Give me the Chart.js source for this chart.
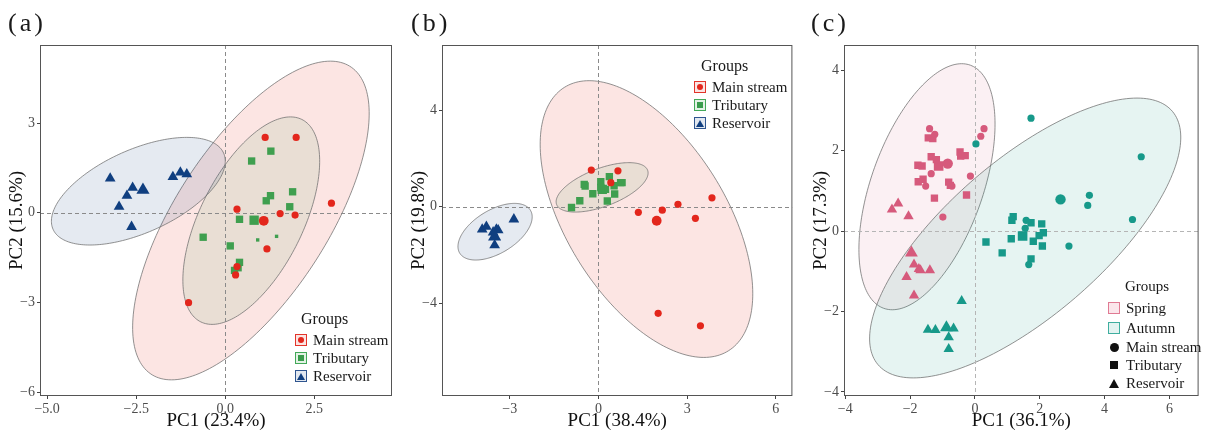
<!DOCTYPE html>
<html>
<head>
<meta charset="utf-8">
<script src="https://cdn.jsdelivr.net/npm/chart.js@4.4.1/dist/chart.umd.min.js"></script>
<style>
  body { margin: 0; background: #fff; width: 1206px; height: 432px; overflow: hidden; position: relative;
         font-family: "Liberation Serif", "Times New Roman", serif; color: #1a1a1a; }
  canvas { position: absolute; top: 0; }
  .tag { position: absolute; top: 8px; font-size: 26px; line-height: 30px; letter-spacing: 3px; }
  .lg { position: absolute; }
  .lg .t { font-size: 16px; height: 20px; line-height: 20px; margin-bottom: 2px; }
  .lg .i { font-size: 15px; line-height: 18px; height: 18px; display: flex; align-items: center; white-space: nowrap; }
  .k { width: 10px; height: 10px; border: 1.5px solid; margin-right: 6px; flex: none;
       display: flex; align-items: center; justify-content: center; }
  .dot { width: 6px; height: 6px; border-radius: 50%; }
  .sq { width: 6px; height: 6px; }
  .tri { width: 0; height: 0; border-left: 4px solid transparent; border-right: 4px solid transparent; border-bottom: 7px solid; }
</style>
</head>
<body>
<canvas id="ca" width="400" height="432" style="left:0"></canvas>
<canvas id="cb" width="400" height="432" style="left:400px"></canvas>
<canvas id="cc" width="406" height="432" style="left:800px"></canvas>

<div class="tag" style="left:8px">(a)</div>
<div class="tag" style="left:411px">(b)</div>
<div class="tag" style="left:811px">(c)</div>

<div class="lg" style="left:295px; top:309px">
  <div class="t" style="padding-left:6px">Groups</div>
  <div class="i"><span class="k" style="border-color:#e3342a;background:#fbe4e2"><span class="dot" style="background:#e3261c"></span></span>Main stream</div>
  <div class="i"><span class="k" style="border-color:#43a858;background:#e3f2e5"><span class="sq" style="background:#3a9c4c"></span></span>Tributary</div>
  <div class="i"><span class="k" style="border-color:#2f558f;background:#e2e8f0"><span class="tri" style="border-bottom-color:#103f80"></span></span>Reservoir</div>
</div>

<div class="lg" style="left:694px; top:56px">
  <div class="t" style="padding-left:7px">Groups</div>
  <div class="i"><span class="k" style="border-color:#e3342a;background:#fbe4e2"><span class="dot" style="background:#e3261c"></span></span>Main stream</div>
  <div class="i"><span class="k" style="border-color:#43a858;background:#e3f2e5"><span class="sq" style="background:#3a9c4c"></span></span>Tributary</div>
  <div class="i"><span class="k" style="border-color:#2f558f;background:#e2e8f0"><span class="tri" style="border-bottom-color:#103f80"></span></span>Reservoir</div>
</div>

<div class="lg" style="left:1108px; top:276px">
  <div class="t" style="padding-left:17px; font-size:15px">Groups</div>
  <div class="i" style="height:20px"><span class="k" style="border-color:#e07a93;background:#fbe6eb"></span>Spring</div>
  <div class="i" style="height:20px"><span class="k" style="border-color:#3fae9f;background:#e3f3f1"></span>Autumn</div>
  <div class="i"><span class="k" style="border-color:transparent"><span class="dot" style="width:9px;height:9px;background:#111"></span></span>Main stream</div>
  <div class="i"><span class="k" style="border-color:transparent"><span class="sq" style="width:8px;height:8px;background:#111"></span></span>Tributary</div>
  <div class="i"><span class="k" style="border-color:transparent"><span class="tri" style="border-bottom-color:#111;border-left-width:5px;border-right-width:5px;border-bottom-width:9px"></span></span>Reservoir</div>
</div>

<script>
// ---- panel (a): PC1 23.4% / PC2 15.6%
const mainA = [[1.12,2.52],[1.99,2.52],[2.98,0.32],[0.33,0.12],[1.54,-0.03],[1.96,-0.08],[1.17,-1.21],[0.29,-2.08],[0.33,-1.80],[-1.03,-3.01]];
const mainAMean = [[1.08,-0.27]];
const tribA = [[1.28,2.06],[0.74,1.73],[1.27,0.57],[1.15,0.40],[1.89,0.70],[1.81,0.20],[0.40,-0.22],[-0.62,-0.82],[0.14,-1.11],[0.40,-1.66],[0.36,-1.84],[0.26,-1.93]];
const tribAMean = [[0.81,-0.25]];
const tribASmall = [[0.91,-0.91],[1.44,-0.79]];
const resA = [[-3.23,1.15],[-2.60,0.84],[-2.76,0.57],[-2.98,0.20],[-2.63,-0.47],[-1.47,1.20],[-1.26,1.35],[-1.08,1.29]];
const resAMean = [[-2.31,0.76]];
// ellipses: [cx, cy, half width, half height, x offset of top point]
const ellMainA = [0.72, -0.26, 3.32, 5.33, 2.23];
const ellTribA = [0.73, -0.265, 1.92, 3.47, 1.10];
const ellResA = [-2.44, 0.72, 2.44, 1.80, 1.36];
const xTicksA = [-5, -2.5, 0, 2.5];
const yTicksA = [-6, -3, 0, 3];

// ---- panel (b): PC1 38.4% / PC2 19.8%
const mainB = [[-0.24,1.52],[0.66,1.49],[0.42,1.0],[1.35,-0.23],[2.16,-0.14],[2.69,0.10],[3.84,0.37],[3.28,-0.48],[2.02,-4.42],[3.45,-4.94]];
const mainBMean = [[1.97,-0.58]];
const tribB = [[-0.91,-0.03],[-0.63,0.25],[-0.19,0.54],[-0.48,0.93],[-0.45,0.86],[0.08,1.04],[0.37,1.25],[0.24,0.72],[0.53,0.87],[0.75,1.0],[0.80,1.0],[0.55,0.53],[0.30,0.24],[0.08,0.80]];
const tribBMean = [[0.13,0.72]];
const resB = [[-2.86,-0.52],[-3.93,-0.94],[-3.79,-0.83],[-3.45,-0.94],[-3.39,-0.97],[-3.51,-1.59],[-3.56,-1.06]];
const resBMean = [[-3.51,-1.24]];
const ellMainB = [1.625, -0.51, 3.595, 5.74, -1.94];
const ellTribB = [0.125, 0.805, 1.555, 1.025, 0.905];
const ellResB = [-3.495, -1.035, 1.255, 1.175, 0.655];
const xTicksB = [-3, 0, 3, 6];
const yTicksB = [-4, 0, 4];

// ---- panel (c): PC1 36.1% / PC2 17.3%
const springMain = [[-1.40,2.55],[-1.24,2.41],[0.28,2.55],[0.18,2.36],[-1.35,1.43],[-1.52,1.12],[-0.71,1.12],[-0.14,1.37],[-0.99,0.35]];
const springMainMean = [[-0.84,1.68]];
const springTrib = [[-1.44,2.32],[-1.30,2.30],[-1.35,1.85],[-1.19,1.78],[-1.76,1.64],[-1.63,1.62],[-0.46,1.97],[-0.44,1.87],[-0.30,1.88],[-1.75,1.23],[-1.60,1.29],[-0.81,1.22],[-0.76,1.14],[-1.25,0.82],[-0.26,0.90]];
const springTribMean = [[-1.12,1.62]];
const springRes = [[-2.56,0.54],[-2.37,0.69],[-2.05,0.37],[-1.88,-0.83],[-1.73,-0.94],[-1.68,-0.97],[-1.39,-0.97],[-2.11,-1.14],[-1.88,-1.60]];
const springResMean = [[-1.96,-0.54]];
const autumnMain = [[1.73,2.81],[0.03,2.17],[5.13,1.85],[3.53,0.89],[3.48,0.64],[4.86,0.29],[2.90,-0.37],[1.58,0.27],[1.55,0.07],[1.66,-0.83]];
const autumnMainMean = [[2.64,0.79]];
const autumnTrib = [[1.18,0.36],[1.14,0.27],[1.73,0.21],[2.06,0.18],[2.11,-0.04],[1.98,-0.11],[1.12,-0.19],[1.80,-0.25],[2.08,-0.37],[0.34,-0.27],[0.84,-0.54],[1.73,-0.69]];
const autumnTribMean = [[1.47,-0.12]];
const autumnRes = [[-0.41,-1.74],[-1.45,-2.45],[-1.22,-2.46],[-0.66,-2.42],[-0.81,-2.64],[-0.81,-2.93]];
const autumnResMean = [[-0.88,-2.40]];
const ellSpring = [-1.48, 1.105, 2.10, 3.06, 1.07];
const ellAutumn = [1.55, -0.17, 4.80, 3.48, 3.45];
const xTicksC = [-4, -2, 0, 2, 4, 6];
const yTicksC = [-4, -2, 0, 2, 4];

const FONT = '"Liberation Serif", "Times New Roman", serif';
const RED = '#e3261c', GREEN = '#3f9f4f', BLUE = '#103f80';
const PINK = '#d65a7c', TEAL = '#17998a';

function ds(points, color, style, r) {
  return {
    data: points.map(p => ({ x: p[0], y: p[1] })),
    backgroundColor: color, borderWidth: 0,
    pointStyle: style, pointRadius: r, pointHoverRadius: r
  };
}

function fmt(dec) {
  return v => (v < 0 ? '\u2212' : '') + Math.abs(v).toFixed(dec);
}

// ellipses, dashed zero lines and the panel frame, all placed through the chart scales
const panelPlugin = {
  id: 'panel',
  beforeDatasetsDraw(chart, args, opts) {
    const { ctx, chartArea: a, scales: { x, y } } = chart;
    ctx.save();
    ctx.beginPath();
    ctx.rect(a.left, a.top, a.right - a.left, a.bottom - a.top);
    ctx.clip();
    opts.ellipses.forEach(([e, fill]) => {
      const [cx, cy, W, H, dxT] = e;
      const w = Math.sqrt(Math.max(W * W - dxT * dxT, 0));
      ctx.beginPath();
      for (let i = 0; i <= 200; i++) {
        const t = i / 200 * Math.PI * 2;
        const px = x.getPixelForValue(cx + dxT * Math.cos(t) + w * Math.sin(t));
        const py = y.getPixelForValue(cy + H * Math.cos(t));
        if (i === 0) ctx.moveTo(px, py); else ctx.lineTo(px, py);
      }
      ctx.closePath();
      ctx.fillStyle = fill;
      ctx.fill();
      ctx.lineWidth = 1;
      ctx.strokeStyle = 'rgba(110,110,110,0.75)';
      ctx.stroke();
    });
    const x0 = Math.round(x.getPixelForValue(0)) + 0.5, y0 = Math.round(y.getPixelForValue(0)) + 0.5;
    ctx.setLineDash(opts.dash);
    ctx.strokeStyle = opts.zero;
    ctx.lineWidth = 1;
    ctx.beginPath();
    ctx.moveTo(x0, a.top); ctx.lineTo(x0, a.bottom);
    ctx.moveTo(a.left, y0); ctx.lineTo(a.right, y0);
    ctx.stroke();
    ctx.restore();
  },
  afterDraw(chart) {
    const { ctx, chartArea: a } = chart;
    ctx.save();
    ctx.strokeStyle = '#555';
    ctx.lineWidth = 1;
    ctx.strokeRect(a.left + 0.5, a.top + 0.5, a.right - a.left - 1, a.bottom - a.top - 1);
    ctx.restore();
  }
};

function axis(min, max, ticks, dec, title, extra) {
  return Object.assign({
    type: 'linear', min: min, max: max,
    afterBuildTicks: s => { s.ticks = ticks.map(v => ({ value: v })); },
    grid: { drawOnChartArea: false, drawTicks: true, tickLength: 3, tickColor: '#444', tickWidth: 1 },
    border: { display: false },
    ticks: { color: '#4d4d4d', font: { family: FONT, size: 14 }, callback: fmt(dec), maxRotation: 0, autoSkip: false },
    title: { display: true, text: title, color: '#111', font: { family: FONT, size: 19 } }
  }, extra);
}

function makeChart(id, o) {
  const xs = axis(o.x[0], o.x[1], o.x[2], o.x[3], o.x[4], { afterFit: s => { s.height = 36; } });
  xs.ticks.padding = 2;
  xs.title.padding = { top: 0, bottom: 0 };
  const ys = axis(o.y[0], o.y[1], o.y[2], o.y[3], o.y[4], { afterFit: s => { s.width = o.yw; } });
  ys.ticks.padding = 2;
  ys.title.padding = { top: o.ytp, bottom: 0 };
  return new Chart(document.getElementById(id), {
    type: 'scatter',
    data: { datasets: o.datasets },
    options: {
      responsive: false, animation: false, events: [],
      layout: { padding: { top: 45, right: o.pr, left: 0, bottom: 0 } },
      plugins: {
        legend: { display: false }, tooltip: { enabled: false },
        panel: { ellipses: o.ellipses, zero: o.zero, dash: o.dash }
      },
      scales: { x: xs, y: ys }
    },
    plugins: [panelPlugin]
  });
}

makeChart('ca', {
  x: [-5.2, 4.68, xTicksA, 1, 'PC1 (23.4%)'],
  y: [-6.13, 5.61, yTicksA, 0, 'PC2 (15.6%)'],
  yw: 40, ytp: 6, pr: 8, zero: '#8a8a8a', dash: [4, 3],
  ellipses: [[ellMainA, 'rgba(227,38,28,0.12)'], [ellTribA, 'rgba(63,159,79,0.10)'], [ellResA, 'rgba(16,63,128,0.11)']],
  datasets: [
    ds(mainA, RED, 'circle', 3.6), ds(mainAMean, RED, 'circle', 4.9),
    ds(tribA, GREEN, 'rect', 5.2), ds(tribAMean, GREEN, 'rect', 6.6), ds(tribASmall, GREEN, 'rect', 2.4),
    ds(resA, BLUE, 'triangle', 6.2), ds(resAMean, BLUE, 'triangle', 7.6)
  ]
});

makeChart('cb', {
  x: [-5.29, 6.56, xTicksB, 0, 'PC1 (38.4%)'],
  y: [-7.85, 6.71, yTicksB, 0, 'PC2 (19.8%)'],
  yw: 42, ytp: 8, pr: 6, zero: '#8a8a8a', dash: [4, 3],
  ellipses: [[ellMainB, 'rgba(227,38,28,0.12)'], [ellTribB, 'rgba(63,159,79,0.10)'], [ellResB, 'rgba(16,63,128,0.11)']],
  datasets: [
    ds(mainB, RED, 'circle', 3.6), ds(mainBMean, RED, 'circle', 4.9),
    ds(tribB, GREEN, 'rect', 5.2), ds(tribBMean, GREEN, 'rect', 6.6),
    ds(resB, BLUE, 'triangle', 6.2), ds(resBMean, BLUE, 'triangle', 7.6)
  ]
});

makeChart('cc', {
  x: [-4.04, 6.9, xTicksC, 0, 'PC1 (36.1%)'],
  y: [-4.1, 4.63, yTicksC, 0, 'PC2 (17.3%)'],
  yw: 44, ytp: 10, pr: 3, zero: '#b5b5b5', dash: [4, 3],
  ellipses: [[ellSpring, 'rgba(214,90,124,0.09)'], [ellAutumn, 'rgba(23,153,138,0.11)']],
  datasets: [
    ds(springMain, PINK, 'circle', 3.6), ds(springMainMean, PINK, 'circle', 5.2),
    ds(springTrib, PINK, 'rect', 5.2), ds(springTribMean, PINK, 'rect', 6.8),
    ds(springRes, PINK, 'triangle', 6.0), ds(springResMean, PINK, 'triangle', 7.4),
    ds(autumnMain, TEAL, 'circle', 3.6), ds(autumnMainMean, TEAL, 'circle', 5.2),
    ds(autumnTrib, TEAL, 'rect', 5.2), ds(autumnTribMean, TEAL, 'rect', 6.8),
    ds(autumnRes, TEAL, 'triangle', 6.0), ds(autumnResMean, TEAL, 'triangle', 7.4)
  ]
});
</script>
</body>
</html>
